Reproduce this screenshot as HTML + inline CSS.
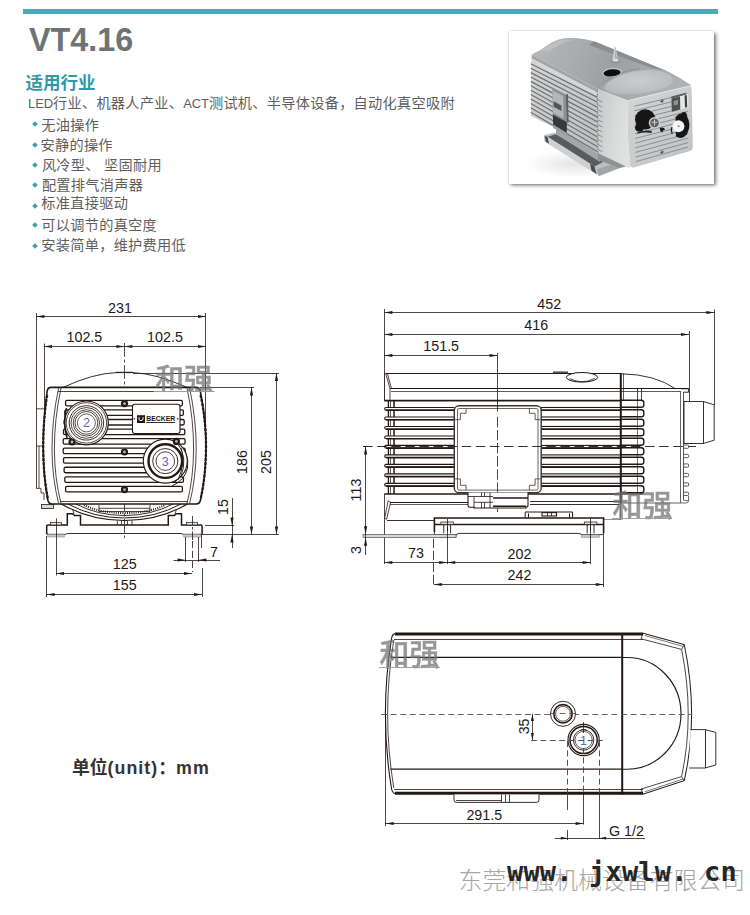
<!DOCTYPE html>
<html lang="zh-CN">
<head>
<meta charset="utf-8">
<title>VT4.16</title>
<style>
html,body{margin:0;padding:0;background:#fff;}
body{width:750px;height:915px;position:relative;overflow:hidden;font-family:"Liberation Sans","Noto Sans CJK SC",sans-serif;}
.bar{position:absolute;left:23px;top:9px;width:695px;height:4.6px;background:#4aacba;}
.title{position:absolute;left:29px;top:22px;font-size:32.3px;line-height:36px;font-weight:bold;color:#6e7375;white-space:nowrap;}
.sub{position:absolute;left:25.5px;top:70.5px;font-size:17.5px;line-height:24px;font-weight:bold;color:#2f9aa7;white-space:nowrap;}
.p{position:absolute;font-size:14.2px;line-height:16px;color:#5e5e5e;white-space:nowrap;letter-spacing:0.28px;}
.p i{font-style:normal;font-size:13px;letter-spacing:-0.1px;}
.b{position:absolute;width:3.9px;height:3.9px;background:#3f9fae;transform:rotate(45deg);}
.unit{position:absolute;left:72px;top:757px;font-size:17.8px;line-height:22px;font-weight:bold;color:#333;white-space:nowrap;}
.unit i{font-style:normal;letter-spacing:1.05px;}
.frame{position:absolute;left:508.5px;top:30.5px;width:205.5px;height:153.5px;background:#fff;box-shadow:2px 2.2px 3.6px rgba(0,0,0,.5),0 0 1.6px rgba(0,0,0,.25);}
.url{position:absolute;left:507px;top:854.4px;font-family:"DejaVu Sans Mono","Liberation Mono",monospace;font-weight:bold;font-size:26.9px;letter-spacing:0.23px;line-height:36px;color:#262626;white-space:pre;}
.corp{position:absolute;left:458.5px;top:864.6px;font-family:"Liberation Sans","Noto Sans CJK SC",sans-serif;font-weight:300;font-size:23.9px;line-height:32px;color:#a6a6a6;white-space:nowrap;}
svg{position:absolute;left:0;top:0;}
svg text{font-family:"Liberation Sans","Noto Sans CJK SC",sans-serif;fill:#231815;}
.wm{font-family:"Liberation Sans","Noto Sans CJK SC",sans-serif;font-weight:500;fill:#747474;stroke:#747474;stroke-width:.55px;opacity:.74;}
</style>
</head>
<body>
<div class="bar"></div>
<div class="title">VT4.16</div>
<div class="sub">适用行业</div>
<div class="p" style="left:28px;top:95px;"><i>LED</i>行业、机器人产业、<i>ACT</i>测试机、半导体设备，自动化真空吸附</div>
<div class="b" style="left:33.2px;top:122.15px;"></div><div class="p" style="left:41.3px;top:116.5px;">无油操作</div>
<div class="b" style="left:33.2px;top:143.25px;"></div><div class="p" style="left:40.5px;top:136.5px;">安静的操作</div>
<div class="b" style="left:33.2px;top:162.75px;"></div><div class="p" style="left:41.9px;top:156.5px;">风冷型、 坚固耐用</div>
<div class="b" style="left:33.2px;top:183.25px;"></div><div class="p" style="left:41.9px;top:177px;">配置排气消声器</div>
<div class="b" style="left:33.2px;top:203.55px;"></div><div class="p" style="left:41.3px;top:195.3px;">标准直接驱动</div>
<div class="b" style="left:33.2px;top:223.25px;"></div><div class="p" style="left:41.3px;top:217px;">可以调节的真空度</div>
<div class="b" style="left:33.2px;top:243.55px;"></div><div class="p" style="left:41.3px;top:237.3px;">安装简单，维护费用低</div>
<div class="frame"></div>
<svg width="750" height="915" viewBox="0 0 750 915">
<g id="front" fill="none" stroke-linecap="butt">
<line x1="36.5" y1="313" x2="36.5" y2="488.5" stroke="#231815" stroke-width="0.8" />
<line x1="205.5" y1="313" x2="205.5" y2="446" stroke="#231815" stroke-width="0.8" />
<line x1="44.5" y1="343.5" x2="44.5" y2="420" stroke="#231815" stroke-width="0.8" />
<line x1="36.4" y1="316.5" x2="206" y2="316.5" stroke="#231815" stroke-width="0.8" /><polygon points="36.4,316.5 44.4,314.9 44.4,318.1" fill="#231815"/><polygon points="206.0,316.5 198.0,314.9 198.0,318.1" fill="#231815"/>
<line x1="44" y1="346.5" x2="124.4" y2="346.5" stroke="#231815" stroke-width="0.8" /><polygon points="44.0,346.5 52.0,344.9 52.0,348.1" fill="#231815"/><polygon points="124.4,346.5 116.4,344.9 116.4,348.1" fill="#231815"/>
<line x1="124.4" y1="346.5" x2="206" y2="346.5" stroke="#231815" stroke-width="0.8" /><polygon points="124.4,346.5 132.4,344.9 132.4,348.1" fill="#231815"/><polygon points="206.0,346.5 198.0,344.9 198.0,348.1" fill="#231815"/>
<line x1="124.5" y1="343" x2="124.5" y2="538" stroke="#231815" stroke-width="0.8" stroke-dasharray="14 2.5 3 2.5"/>
<path d="M46 408.8H36.4M45 446H36.4M39 446V488M36.4 488.4H41V493H44V500" stroke="#231815" stroke-width="0.8"/>
<rect x="41.5" y="504.5" width="12" height="4" fill="#d8d8d8" stroke="#231815" stroke-width="0.8"/>
<path d="M63 387.4Q93 373.5 116 372.6H133Q156 373.5 187 387.4" stroke="#231815" stroke-width="0.9"/>
<line x1="116" y1="372.4" x2="133" y2="372.4" stroke="#231815" stroke-width="1.2" />
<path d="M51 387.4H196Q199.5 387.4 200.3 391Q206 420 206 446Q206 475 200.5 500Q199.8 504 196 504H52Q48.6 504 47.8 500Q43.2 475 43.2 446Q43.2 420 47.2 391Q47.8 387.4 51 387.4Z" fill="#fff" stroke="#231815" stroke-width="1.6"/>
<path d="M47.2 395Q43.2 420 43.2 446Q43.2 475 47.8 498" stroke="#231815" stroke-width="2.2" stroke-dasharray="3 1.2"/>
<path d="M200.5 395Q206 420 206 446Q206 475 200.8 498" stroke="#231815" stroke-width="2.2" stroke-dasharray="3 1.2"/>
<path d="M61 388Q54.2 420 54.4 450Q54.6 478 61 503.5M58.6 388Q51.8 420 52 450Q52.2 478 58.6 503.5" stroke="#231815" stroke-width="0.8"/>
<path d="M187 388Q193.8 420 193.6 450Q193.4 478 187 503.5M189.6 388Q196.4 420 196.2 450Q196 478 189.6 503.5" stroke="#231815" stroke-width="0.8"/>
<line x1="58" y1="391.5" x2="190" y2="391.5" stroke="#231815" stroke-width="0.8" />
<line x1="60" y1="501.5" x2="188" y2="501.5" stroke="#231815" stroke-width="0.8" />
<rect x="65.6" y="400.40" width="116.8" height="5.5" rx="1.4" fill="#fff" stroke="#231815" stroke-width="1.3"/>
<rect x="64.8" y="409.95" width="118.6" height="5.5" rx="1.4" fill="#fff" stroke="#231815" stroke-width="1.3"/>
<rect x="64.1" y="419.50" width="120.1" height="5.5" rx="1.4" fill="#fff" stroke="#231815" stroke-width="1.3"/>
<rect x="63.5" y="429.05" width="121.3" height="5.5" rx="1.4" fill="#fff" stroke="#231815" stroke-width="1.3"/>
<rect x="63.2" y="438.60" width="121.9" height="5.5" rx="1.4" fill="#fff" stroke="#231815" stroke-width="1.3"/>
<rect x="63.2" y="448.15" width="121.9" height="5.5" rx="1.4" fill="#fff" stroke="#231815" stroke-width="1.3"/>
<rect x="63.5" y="457.70" width="121.3" height="5.5" rx="1.4" fill="#fff" stroke="#231815" stroke-width="1.3"/>
<rect x="64.1" y="467.25" width="120.1" height="5.5" rx="1.4" fill="#fff" stroke="#231815" stroke-width="1.3"/>
<rect x="64.8" y="476.80" width="118.6" height="5.5" rx="1.4" fill="#fff" stroke="#231815" stroke-width="1.3"/>
<rect x="65.6" y="486.35" width="116.8" height="5.5" rx="1.4" fill="#fff" stroke="#231815" stroke-width="1.3"/>
<rect x="132.5" y="404.3" width="47.5" height="29.2" rx="2.2" fill="#fff" stroke="#231815" stroke-width="1.1"/>
<rect x="137" y="415.2" width="8" height="7.8" fill="#231815" stroke="none"/>
<path d="M139 417.2V419.6Q141 422 143 419.6V417.2" stroke="#fff" stroke-width="1"/>
<text x="146.2" y="421.2" font-size="7.9" font-weight="bold" textLength="29" lengthAdjust="spacingAndGlyphs" style="fill:#231815">BECKER</text>
<line x1="146.2" y1="422.5" x2="175.2" y2="422.5" stroke="#231815" stroke-width="0.9" />
<circle cx="134.3" cy="418.8" r="0.8" fill="#231815"/><circle cx="177.8" cy="418.8" r="0.8" fill="#231815"/>
<circle cx="86.4" cy="422.9" r="21.9" fill="#fff" stroke="#231815" stroke-width="1.2"/>
<circle cx="86.4" cy="422.9" r="20.2" stroke="#231815" stroke-width="0.8"/>
<circle cx="86.4" cy="422.9" r="17.2" stroke="#231815" stroke-width="0.9"/>
<circle cx="86.4" cy="422.9" r="15.4" stroke="#231815" stroke-width="0.8"/>
<circle cx="86.4" cy="422.9" r="13.2" stroke="#231815" stroke-width="0.8"/>
<circle cx="86.4" cy="422.9" r="11.4" stroke="#231815" stroke-width="0.8"/>
<circle cx="86.4" cy="422.9" r="9" stroke="#231815" stroke-width="0.7"/>
<path d="M66.5 408Q62.5 422 67 438" stroke="#231815" stroke-width="1.5"/>
<text x="86.4" y="427.3" font-size="12.5" text-anchor="middle" style="fill:#5b6bb5">2</text>
<path d="M176 443Q190 452 187.5 468Q185 480 172 486" stroke="#231815" stroke-width="1"/>
<circle cx="165.3" cy="461.1" r="22" fill="#fff" stroke="#231815" stroke-width="1.1"/>
<path d="M178 444Q188 458 181 476L175 482" stroke="#231815" stroke-width="0.9"/>
<path d="M181 448Q186 462 178 480" stroke="#231815" stroke-width="0.9"/>
<circle cx="165.3" cy="461.1" r="16.8" fill="#fff" stroke="#231815" stroke-width="2.4"/>
<circle cx="165.3" cy="461.1" r="12.6" stroke="#231815" stroke-width="0.9"/>
<circle cx="165.3" cy="461.1" r="9.3" stroke="#231815" stroke-width="0.8"/>
<text x="165.3" y="465.6" font-size="12.5" text-anchor="middle" style="fill:#5b6bb5">3</text>
<circle cx="124.5" cy="403.6" r="3.6" fill="#231815"/><circle cx="124.5" cy="403.6" r="1.4" fill="#b5b5b5"/>
<circle cx="124.5" cy="452" r="3.6" fill="#231815"/><circle cx="124.5" cy="452" r="1.4" fill="#b5b5b5"/>
<circle cx="124.5" cy="489.6" r="3.6" fill="#231815"/><circle cx="124.5" cy="489.6" r="1.4" fill="#b5b5b5"/>
<circle cx="72" cy="442" r="3.6" fill="#231815"/><circle cx="72" cy="442" r="1.4" fill="#b5b5b5"/>
<circle cx="176.4" cy="441.4" r="3.6" fill="#231815"/><circle cx="176.4" cy="441.4" r="1.4" fill="#b5b5b5"/>
<path d="M61.3 504Q90 520.5 124.4 520.5Q159 520.5 187.5 504" stroke="#231815" stroke-width="1.1"/>
<path d="M68 504Q94 518 124.4 518Q155 518 181 504" stroke="#231815" stroke-width="1"/>
<path d="M76 504Q98 515.5 124.4 515.5Q151 515.5 173 504" stroke="#231815" stroke-width="0.9"/>
<path d="M84 505Q100 513 124.4 513Q149 513 165 505" stroke="#231815" stroke-width="2" stroke-dasharray="1 1.2"/>
<path d="M99 505V511.5H150V505M99 508.3H150" stroke="#231815" stroke-width="0.8"/>
<path d="M117.3 520.5V525M132 520.5V525M121.5 520.5V525M127.5 520.5V525" stroke="#231815" stroke-width="0.8"/>
<path d="M202.1 534.3V526.2Q202.1 525 200.8 525H181.5V513.7H176.3L174.3 515.5H168.3V525H124.4" stroke="#231815" stroke-width="1.5"/>
<path d="M46.7 534.3V526.2Q46.7 525 48.0 525H67.3V513.7H72.5L74.5 515.5H80.5V525H124.4" stroke="#231815" stroke-width="1.5"/>
<path d="M46.7 534.3H65.3L68 533.5H181L183.5 534.3H202" stroke="#231815" stroke-width="0.9"/>
<path d="M74 514L72.5 509M175 514L176.5 509" stroke="#231815" stroke-width="0.8"/>
<rect x="50.4" y="522.3" width="11.2" height="2.7" fill="#e3e3e3" stroke="#231815" stroke-width="0.7"/>
<rect x="47.8" y="534.3" width="16.4" height="2.7" fill="#c9c9c9" stroke="#777" stroke-width="0.5"/>
<rect x="186.4" y="522.3" width="11.2" height="2.7" fill="#e3e3e3" stroke="#231815" stroke-width="0.7"/>
<rect x="183.8" y="534.3" width="16.4" height="2.7" fill="#c9c9c9" stroke="#777" stroke-width="0.5"/>
<line x1="56.5" y1="518.3" x2="56.5" y2="575.5" stroke="#231815" stroke-width="0.8" />
<line x1="192.5" y1="516" x2="192.5" y2="540" stroke="#231815" stroke-width="0.8" stroke-dasharray="9 2 2.5 2"/>
<line x1="192.5" y1="541" x2="192.5" y2="572" stroke="#231815" stroke-width="0.8" stroke-dasharray="7 3"/>
<line x1="185.5" y1="537" x2="185.5" y2="562" stroke="#231815" stroke-width="0.8" />
<line x1="198.5" y1="537" x2="198.5" y2="562" stroke="#231815" stroke-width="0.8" />
<line x1="173.6" y1="560.5" x2="220" y2="560.5" stroke="#231815" stroke-width="0.8" />
<polygon points="185.6,560.0 177.6,558.4 177.6,561.6" fill="#231815"/>
<polygon points="198.4,560.0 206.4,558.4 206.4,561.6" fill="#231815"/>
<text x="214" y="557" font-size="14.3" text-anchor="middle" >7</text>
<line x1="46.5" y1="536" x2="46.5" y2="597" stroke="#231815" stroke-width="0.8" />
<line x1="202.5" y1="568" x2="202.5" y2="597" stroke="#231815" stroke-width="0.8" />
<line x1="201.5" y1="534.3" x2="201.5" y2="548" stroke="#231815" stroke-width="0.8" />
<line x1="56" y1="573.5" x2="192" y2="573.5" stroke="#231815" stroke-width="0.8" /><polygon points="56.0,573.5 64.0,571.9 64.0,575.1" fill="#231815"/><polygon points="192.0,573.5 184.0,571.9 184.0,575.1" fill="#231815"/>
<text x="124.8" y="569.3" font-size="14.3" text-anchor="middle" >125</text>
<line x1="46.7" y1="594.5" x2="202" y2="594.5" stroke="#231815" stroke-width="0.8" /><polygon points="46.7,594.5 54.7,592.9 54.7,596.1" fill="#231815"/><polygon points="202.0,594.5 194.0,592.9 194.0,596.1" fill="#231815"/>
<text x="124.8" y="590" font-size="14.3" text-anchor="middle" >155</text>
<line x1="205" y1="525.5" x2="234" y2="525.5" stroke="#231815" stroke-width="0.8" />
<line x1="202" y1="534.5" x2="279" y2="534.5" stroke="#231815" stroke-width="0.8" />
<line x1="232.5" y1="498" x2="232.5" y2="548" stroke="#231815" stroke-width="0.8" />
<polygon points="232.0,525.6 230.4,517.6 233.6,517.6" fill="#231815"/>
<polygon points="232.0,534.4 230.4,542.4 233.6,542.4" fill="#231815"/>
<text x="228.4" y="507" font-size="14.3" text-anchor="middle" transform="rotate(-90 228.4 507)" >15</text>
<line x1="200" y1="387.5" x2="254" y2="387.5" stroke="#231815" stroke-width="0.8" />
<line x1="133" y1="373.5" x2="279" y2="373.5" stroke="#231815" stroke-width="0.8" />
<line x1="251.5" y1="387.4" x2="251.5" y2="534.4" stroke="#231815" stroke-width="0.8" /><polygon points="251.5,387.4 249.9,395.4 253.1,395.4" fill="#231815"/><polygon points="251.5,534.4 249.9,526.4 253.1,526.4" fill="#231815"/>
<line x1="276.5" y1="373" x2="276.5" y2="534.4" stroke="#231815" stroke-width="0.8" /><polygon points="276.5,373.0 274.9,381.0 278.1,381.0" fill="#231815"/><polygon points="276.5,534.4 274.9,526.4 278.1,526.4" fill="#231815"/>
<text x="246.6" y="462" font-size="14.3" text-anchor="middle" transform="rotate(-90 246.6 462)" >186</text>
<text x="271" y="462" font-size="14.3" text-anchor="middle" transform="rotate(-90 271 462)" >205</text>
<text x="120" y="312.6" font-size="14.3" text-anchor="middle" >231</text>
<text x="84.4" y="342.3" font-size="14.3" text-anchor="middle" >102.5</text>
<text x="165" y="342.3" font-size="14.3" text-anchor="middle" >102.5</text>
</g>
<text class="wm" x="155.6" y="388.8" font-size="28.6">和强</text>
<line x1="154" y1="391.5" x2="214.5" y2="391.5" stroke="#9b9b9b" stroke-width="1.0" />
<g id="side" fill="none">
<line x1="384.5" y1="309" x2="384.5" y2="373" stroke="#231815" stroke-width="0.8" />
<line x1="714.5" y1="309.5" x2="714.5" y2="405" stroke="#231815" stroke-width="0.8" />
<line x1="689.5" y1="331" x2="689.5" y2="401.5" stroke="#231815" stroke-width="0.8" />
<line x1="384.4" y1="312.5" x2="714.4" y2="312.5" stroke="#231815" stroke-width="0.8" /><polygon points="384.4,312.5 392.4,310.9 392.4,314.1" fill="#231815"/><polygon points="714.4,312.5 706.4,310.9 706.4,314.1" fill="#231815"/>
<line x1="384.4" y1="334.5" x2="689" y2="334.5" stroke="#231815" stroke-width="0.8" /><polygon points="384.4,334.5 392.4,332.9 392.4,336.1" fill="#231815"/><polygon points="689.0,334.5 681.0,332.9 681.0,336.1" fill="#231815"/>
<line x1="384.4" y1="355.5" x2="497.5" y2="355.5" stroke="#231815" stroke-width="0.8" /><polygon points="384.4,355.5 392.4,353.9 392.4,357.1" fill="#231815"/><polygon points="497.5,355.5 489.5,353.9 489.5,357.1" fill="#231815"/>
<text x="549.2" y="308.8" font-size="14.3" text-anchor="middle" >452</text>
<text x="536.2" y="329.6" font-size="14.3" text-anchor="middle" >416</text>
<text x="441.2" y="350.8" font-size="14.3" text-anchor="middle" >151.5</text>
<line x1="385.6" y1="373.5" x2="620.7" y2="373.5" stroke="#231815" stroke-width="1.0" />
<line x1="384.5" y1="373" x2="384.5" y2="400.7" stroke="#231815" stroke-width="0.9" />
<path d="M385.6 373L390 388.8V400M387.3 373L391.5 388.8" stroke="#231815" stroke-width="0.8"/>
<line x1="390" y1="388.5" x2="688.6" y2="388.5" stroke="#231815" stroke-width="1.0" />
<line x1="391" y1="391.5" x2="681" y2="391.5" stroke="#231815" stroke-width="0.7" />
<line x1="553" y1="372.2" x2="568" y2="372.2" stroke="#555" stroke-width="1.6" />
<ellipse cx="582" cy="377.3" rx="15.6" ry="4.8" fill="#fff" stroke="#231815" stroke-width="1"/>
<path d="M569.5 378.5Q582 385 594.5 378.5" stroke="#231815" stroke-width="0.8"/>
<line x1="384.3" y1="400.7" x2="620.7" y2="400.7" stroke="#231815" stroke-width="1.7" />
<line x1="384.3" y1="494" x2="620.7" y2="494" stroke="#231815" stroke-width="1.7" />
<line x1="384.5" y1="494" x2="384.5" y2="564" stroke="#231815" stroke-width="0.8" />
<line x1="388.4" y1="400.7" x2="388.4" y2="494" stroke="#231815" stroke-width="1.3" />
<line x1="390.5" y1="400.7" x2="390.5" y2="494" stroke="#231815" stroke-width="0.7" />
<line x1="393.5" y1="400.7" x2="393.5" y2="494" stroke="#231815" stroke-width="0.7" />
<line x1="394.5" y1="400.7" x2="394.5" y2="494" stroke="#231815" stroke-width="0.8" />
<rect x="384.7" y="407.50" width="70" height="2.6" rx="1.3" fill="#fff" stroke="#231815" stroke-width="1.1"/>
<rect x="541" y="407.50" width="80" height="2.6" fill="#fff" stroke="#231815" stroke-width="1.1"/>
<path d="M386 410.25H454M541 410.25H621" stroke="#231815" stroke-width="1.6"/>
<rect x="384.7" y="416.98" width="70" height="2.6" rx="1.3" fill="#fff" stroke="#231815" stroke-width="1.1"/>
<rect x="541" y="416.98" width="80" height="2.6" fill="#fff" stroke="#231815" stroke-width="1.1"/>
<path d="M386 419.73H454M541 419.73H621" stroke="#231815" stroke-width="1.6"/>
<rect x="384.7" y="426.46" width="70" height="2.6" rx="1.3" fill="#fff" stroke="#231815" stroke-width="1.1"/>
<rect x="541" y="426.46" width="80" height="2.6" fill="#fff" stroke="#231815" stroke-width="1.1"/>
<path d="M386 429.21H454M541 429.21H621" stroke="#231815" stroke-width="1.6"/>
<rect x="384.7" y="435.94" width="70" height="2.6" rx="1.3" fill="#fff" stroke="#231815" stroke-width="1.1"/>
<rect x="541" y="435.94" width="80" height="2.6" fill="#fff" stroke="#231815" stroke-width="1.1"/>
<path d="M386 438.69H454M541 438.69H621" stroke="#231815" stroke-width="1.6"/>
<rect x="384.7" y="445.42" width="70" height="2.6" rx="1.3" fill="#fff" stroke="#231815" stroke-width="1.1"/>
<rect x="541" y="445.42" width="80" height="2.6" fill="#fff" stroke="#231815" stroke-width="1.1"/>
<path d="M386 448.17H454M541 448.17H621" stroke="#231815" stroke-width="1.6"/>
<rect x="384.7" y="454.90" width="70" height="2.6" rx="1.3" fill="#fff" stroke="#231815" stroke-width="1.1"/>
<rect x="541" y="454.90" width="80" height="2.6" fill="#fff" stroke="#231815" stroke-width="1.1"/>
<path d="M386 457.65H454M541 457.65H621" stroke="#231815" stroke-width="1.6"/>
<rect x="384.7" y="464.38" width="70" height="2.6" rx="1.3" fill="#fff" stroke="#231815" stroke-width="1.1"/>
<rect x="541" y="464.38" width="80" height="2.6" fill="#fff" stroke="#231815" stroke-width="1.1"/>
<path d="M386 467.13H454M541 467.13H621" stroke="#231815" stroke-width="1.6"/>
<rect x="384.7" y="473.86" width="70" height="2.6" rx="1.3" fill="#fff" stroke="#231815" stroke-width="1.1"/>
<rect x="541" y="473.86" width="80" height="2.6" fill="#fff" stroke="#231815" stroke-width="1.1"/>
<path d="M386 476.61H454M541 476.61H621" stroke="#231815" stroke-width="1.6"/>
<rect x="384.7" y="483.34" width="70" height="2.6" rx="1.3" fill="#fff" stroke="#231815" stroke-width="1.1"/>
<rect x="541" y="483.34" width="80" height="2.6" fill="#fff" stroke="#231815" stroke-width="1.1"/>
<path d="M386 486.09H454M541 486.09H621" stroke="#231815" stroke-width="1.6"/>
<rect x="621" y="392" width="24" height="108" fill="#fff" stroke="none"/>
<path d="M621 400.30H641.2Q643.8 400.30 643.8 402.50V405.00Q643.8 407.20 641.2 407.20H621" fill="#fff" stroke="#231815" stroke-width="1.4"/>
<path d="M621 409.80H641.2Q643.8 409.80 643.8 412.00V414.50Q643.8 416.70 641.2 416.70H621" fill="#fff" stroke="#231815" stroke-width="1.4"/>
<path d="M621 419.30H641.2Q643.8 419.30 643.8 421.50V424.00Q643.8 426.20 641.2 426.20H621" fill="#fff" stroke="#231815" stroke-width="1.4"/>
<path d="M621 428.80H641.2Q643.8 428.80 643.8 431.00V433.50Q643.8 435.70 641.2 435.70H621" fill="#fff" stroke="#231815" stroke-width="1.4"/>
<path d="M621 438.30H641.2Q643.8 438.30 643.8 440.50V443.00Q643.8 445.20 641.2 445.20H621" fill="#fff" stroke="#231815" stroke-width="1.4"/>
<path d="M621 447.80H641.2Q643.8 447.80 643.8 450.00V452.50Q643.8 454.70 641.2 454.70H621" fill="#fff" stroke="#231815" stroke-width="1.4"/>
<path d="M621 457.30H641.2Q643.8 457.30 643.8 459.50V462.00Q643.8 464.20 641.2 464.20H621" fill="#fff" stroke="#231815" stroke-width="1.4"/>
<path d="M621 466.80H641.2Q643.8 466.80 643.8 469.00V471.50Q643.8 473.70 641.2 473.70H621" fill="#fff" stroke="#231815" stroke-width="1.4"/>
<path d="M621 476.30H641.2Q643.8 476.30 643.8 478.50V481.00Q643.8 483.20 641.2 483.20H621" fill="#fff" stroke="#231815" stroke-width="1.4"/>
<path d="M621 485.80H641.2Q643.8 485.80 643.8 488.00V490.50Q643.8 492.70 641.2 492.70H621" fill="#fff" stroke="#231815" stroke-width="1.4"/>
<line x1="637.5" y1="389" x2="637.5" y2="400.6" stroke="#231815" stroke-width="0.8" />
<line x1="641.5" y1="389" x2="641.5" y2="400.6" stroke="#231815" stroke-width="0.8" />
<line x1="637.5" y1="400.6" x2="637.5" y2="494" stroke="#231815" stroke-width="0.6" />
<line x1="621" y1="494" x2="644" y2="494" stroke="#231815" stroke-width="1.2" />
<line x1="620.8" y1="373" x2="620.8" y2="503" stroke="#231815" stroke-width="2.0" />
<line x1="623.5" y1="373.5" x2="623.5" y2="400" stroke="#231815" stroke-width="0.7" />
<path d="M621.6 373.8Q655 374.5 675.5 388.8" stroke="#231815" stroke-width="0.9"/>
<rect x="454.3" y="405.8" width="86.9" height="86.9" rx="4.6" fill="#fff" stroke="#3a3432" stroke-width="1.4"/>
<rect x="457.5" y="408.5" width="80.5" height="81.6" rx="1.5" stroke="#3a3432" stroke-width="0.75"/>
<path d="M466.1 408.5V413.3H460.4V419.7H455.1" stroke="#3a3432" stroke-width="0.8"/>
<path d="M529.4 408.5V413.3H535.1V419.7H540.4" stroke="#3a3432" stroke-width="0.8"/>
<path d="M466.1 490.1V485.3H460.4V478.90000000000003H455.1" stroke="#3a3432" stroke-width="0.8"/>
<path d="M529.4 490.1V485.3H535.1V478.90000000000003H540.4" stroke="#3a3432" stroke-width="0.8"/>
<line x1="363" y1="446.5" x2="696" y2="446.5" stroke="#231815" stroke-width="0.9" stroke-dasharray="9.5 4.6"/>
<line x1="497.5" y1="353" x2="497.5" y2="392" stroke="#231815" stroke-width="0.8" />
<line x1="497.5" y1="392" x2="497.5" y2="411.6" stroke="#231815" stroke-width="0.8" />
<line x1="497.5" y1="416.8" x2="497.5" y2="512" stroke="#231815" stroke-width="0.8" stroke-dasharray="10.5 2.6"/>
<line x1="680.5" y1="391" x2="680.5" y2="503" stroke="#555" stroke-width="0.9" />
<line x1="683.5" y1="392" x2="683.5" y2="500" stroke="#555" stroke-width="1.0" />
<path d="M681 388.8H688.6V392.2H683.5" stroke="#231815" stroke-width="0.9"/>
<path d="M620.8 503H686Q688.6 503 688.6 500.5V496" stroke="#555" stroke-width="0.9"/>
<line x1="683.5" y1="500.5" x2="688.6" y2="500.5" stroke="#555" stroke-width="0.8" />
<rect x="683.6" y="445.0" width="5" height="3.3" rx="1" stroke="#444" stroke-width="0.9" fill="#fff"/>
<rect x="683.6" y="454.4" width="5" height="3.3" rx="1" stroke="#444" stroke-width="0.9" fill="#fff"/>
<rect x="683.6" y="463.9" width="5" height="3.3" rx="1" stroke="#444" stroke-width="0.9" fill="#fff"/>
<rect x="683.6" y="473.4" width="5" height="3.3" rx="1" stroke="#444" stroke-width="0.9" fill="#fff"/>
<rect x="683.6" y="482.8" width="5" height="3.3" rx="1" stroke="#444" stroke-width="0.9" fill="#fff"/>
<rect x="683.6" y="492.2" width="5" height="3.3" rx="1" stroke="#444" stroke-width="0.9" fill="#fff"/>
<path d="M684 401.5H703.3L714.2 404.8V440.2L703.3 443.5H684Z" fill="#fff" stroke="#231815" stroke-width="0.9"/>
<line x1="703.5" y1="401.5" x2="703.5" y2="443.5" stroke="#231815" stroke-width="0.9" />
<path d="M388.2 500.8L390.6 502.3L386.6 519.2L384.6 518.2Z" stroke="#231815" stroke-width="0.8" fill="#fff"/>
<line x1="390" y1="502.5" x2="468" y2="502.5" stroke="#231815" stroke-width="1.0" />
<line x1="390" y1="504.5" x2="468" y2="504.5" stroke="#231815" stroke-width="0.7" />
<line x1="387" y1="520.5" x2="434.4" y2="520.5" stroke="#231815" stroke-width="0.9" />
<path d="M468 492.6V505.5Q468 507.2 470 507.2H474V508H526V507.2Q528 507.2 528 505V492.6" fill="#fff" stroke="#231815" stroke-width="1.1"/>
<path d="M468 496.5H493M474 502.3H493M474 496.5V508M481.5 492.6V496.5M484.5 492.6V496.5M481.5 502.3V508M484.5 502.3V508M490 492.6V508" stroke="#231815" stroke-width="0.8"/>
<line x1="493" y1="498" x2="528" y2="498" stroke="#231815" stroke-width="1.5" />
<line x1="493" y1="506.3" x2="526" y2="506.3" stroke="#231815" stroke-width="1.5" />
<line x1="530" y1="501.5" x2="620" y2="501.5" stroke="#231815" stroke-width="0.9" />
<line x1="530" y1="504.5" x2="620" y2="504.5" stroke="#231815" stroke-width="0.9" />
<line x1="620.5" y1="503" x2="620.5" y2="520" stroke="#555" stroke-width="0.8" />
<line x1="603.6" y1="519.5" x2="620.4" y2="519.5" stroke="#777" stroke-width="0.8" />
<path d="M525.2 517.8V512H572.6V517.8M528.5 517.8V513.5M569.5 517.8V513.5" stroke="#231815" stroke-width="1.0"/>
<rect x="542" y="512.6" width="14.5" height="3.4" fill="#fff" stroke="#231815" stroke-width="1.1"/>
<line x1="547.5" y1="512.6" x2="547.5" y2="516" stroke="#231815" stroke-width="0.8" />
<line x1="551.5" y1="512.6" x2="551.5" y2="516" stroke="#231815" stroke-width="0.8" />
<path d="M434.4 532V518H603.6V533.4" stroke="#231815" stroke-width="1.6"/>
<line x1="434.4" y1="524.4" x2="603.6" y2="524.4" stroke="#231815" stroke-width="1.5" />
<path d="M434.4 532V534.6H456L459 533.4H579L582 534.6H603.6" stroke="#231815" stroke-width="0.9"/>
<rect x="440.9" y="522" width="12.6" height="2.5" fill="#e0e0e0" stroke="#231815" stroke-width="0.7"/>
<path d="M443.8 524.6V533.4M450.59999999999997 524.6V533.4" stroke="#231815" stroke-width="0.9"/>
<rect x="438.2" y="534.8" width="18" height="2.4" fill="#c8c8c8" stroke="#777" stroke-width="0.5"/>
<line x1="447.5" y1="527" x2="447.5" y2="531" stroke="#231815" stroke-width="1.0" />
<rect x="584.3000000000001" y="522" width="12.6" height="2.5" fill="#e0e0e0" stroke="#231815" stroke-width="0.7"/>
<path d="M587.2 524.6V533.4M594.0 524.6V533.4" stroke="#231815" stroke-width="0.9"/>
<rect x="581.6" y="534.8" width="18" height="2.4" fill="#c8c8c8" stroke="#777" stroke-width="0.5"/>
<line x1="590.5" y1="527" x2="590.5" y2="531" stroke="#231815" stroke-width="1.0" />
<rect x="363" y="534.5" width="93" height="3" fill="#d6d6d6" stroke="#555" stroke-width="0.7"/>
<line x1="447.5" y1="519" x2="447.5" y2="564" stroke="#231815" stroke-width="0.8" />
<line x1="590.5" y1="519" x2="590.5" y2="564" stroke="#231815" stroke-width="0.8" />
<line x1="433.5" y1="539" x2="433.5" y2="587" stroke="#231815" stroke-width="0.8" stroke-dasharray="9 3"/>
<line x1="603.5" y1="533.4" x2="603.5" y2="587" stroke="#231815" stroke-width="0.8" />
<line x1="384.3" y1="562.5" x2="447.2" y2="562.5" stroke="#231815" stroke-width="0.8" /><polygon points="384.3,562.5 392.3,560.9 392.3,564.1" fill="#231815"/><polygon points="447.2,562.5 439.2,560.9 439.2,564.1" fill="#231815"/>
<line x1="447.2" y1="562.5" x2="590.6" y2="562.5" stroke="#231815" stroke-width="0.8" /><polygon points="447.2,562.5 455.2,560.9 455.2,564.1" fill="#231815"/><polygon points="590.6,562.5 582.6,560.9 582.6,564.1" fill="#231815"/>
<line x1="433.8" y1="584.5" x2="603.8" y2="584.5" stroke="#231815" stroke-width="0.8" /><polygon points="433.8,584.5 441.8,582.9 441.8,586.1" fill="#231815"/><polygon points="603.8,584.5 595.8,582.9 595.8,586.1" fill="#231815"/>
<text x="416" y="558.2" font-size="14.3" text-anchor="middle" >73</text>
<text x="519.5" y="558.6" font-size="14.3" text-anchor="middle" >202</text>
<text x="519.5" y="580.4" font-size="14.3" text-anchor="middle" >242</text>
<line x1="365.5" y1="446.6" x2="365.5" y2="555" stroke="#231815" stroke-width="0.8" />
<polygon points="365.6,446.6 364.0,454.6 367.2,454.6" fill="#231815"/>
<polygon points="365.6,534.2 364.0,526.2 367.2,526.2" fill="#231815"/>
<polygon points="365.6,537.8 364.0,545.8 367.2,545.8" fill="#231815"/>
<text x="361" y="490" font-size="14.3" text-anchor="middle" transform="rotate(-90 361 490)" >113</text>
<text x="361" y="550" font-size="14.3" text-anchor="middle" transform="rotate(-90 361 550)" >3</text>
</g>
<text class="wm" x="612.5" y="516.4" font-size="30">和强</text>
<line x1="612" y1="518.5" x2="672" y2="518.5" stroke="#9b9b9b" stroke-width="0.9" />
<g id="top" fill="none">
<path d="M395 634H643" stroke="#231815" stroke-width="3"/>
<path d="M395 793.3H643" stroke="#231815" stroke-width="3"/>
<path d="M396.5 633.4Q392.4 633.6 391.6 638Q385.4 676 385.4 714Q385.4 752 391.6 789Q392.4 793.6 396.5 794" stroke="#231815" stroke-width="1.1"/>
<path d="M393.8 640Q387.6 678 387.6 714Q387.6 750 393.8 788" stroke="#231815" stroke-width="0.8"/>
<line x1="394" y1="639.5" x2="643" y2="639.5" stroke="#231815" stroke-width="0.8" />
<line x1="394" y1="789.5" x2="643" y2="789.5" stroke="#231815" stroke-width="0.8" />
<line x1="390.5" y1="657.4" x2="622" y2="657.4" stroke="#231815" stroke-width="1.2" />
<line x1="390.5" y1="769.2" x2="622" y2="769.2" stroke="#231815" stroke-width="1.2" />
<line x1="622.2" y1="633" x2="622.2" y2="794.5" stroke="#231815" stroke-width="2.0" />
<path d="M643 633.2L684.3 644.6Q691.6 680 691.6 714Q691.6 748 684.3 780.6L643 794.2" stroke="#231815" stroke-width="1.0"/>
<path d="M641 638.8L681.6 649.4Q688.2 682 688.2 714Q688.2 746 681.6 776.6L641 789" stroke="#231815" stroke-width="0.8"/>
<path d="M643 633.2L641 638.8M684.3 644.6L681.6 649.4M643 794.2L641 789M684.3 780.6L681.6 776.6" stroke="#231815" stroke-width="0.8"/>
<path d="M645 635.5L683 646.4M645 791.8L683 779" stroke="#231815" stroke-width="0.6"/>
<path d="M622 657.5H627A54 56.3 0 0 1 681 713.8A54 55.4 0 0 1 627 769.2H622" stroke="#231815" stroke-width="1.15"/>
<path d="M690.4 729.6H705L715.8 732.4V765L705 768H689.2" fill="#fff" stroke="#231815" stroke-width="0.9"/>
<line x1="705.5" y1="729.6" x2="705.5" y2="768" stroke="#231815" stroke-width="0.9" />
<line x1="381" y1="714.5" x2="692" y2="714.5" stroke="#555" stroke-width="0.9" stroke-dasharray="6 3.6"/>
<circle cx="563" cy="713.8" r="12.5" fill="#fff" stroke="#231815" stroke-width="0.9"/>
<circle cx="563" cy="713.8" r="9.2" stroke="#231815" stroke-width="1.6"/>
<circle cx="563" cy="713.8" r="7.4" stroke="#231815" stroke-width="0.7"/>
<line x1="550" y1="713.5" x2="576" y2="713.5" stroke="#555" stroke-width="0.9" stroke-dasharray="6 3.6"/>
<circle cx="583.6" cy="740" r="15.6" fill="#fff" stroke="#231815" stroke-width="1.1"/>
<circle cx="583.6" cy="740" r="13.6" stroke="#231815" stroke-width="1.5"/>
<circle cx="583.6" cy="740" r="10.2" stroke="#231815" stroke-width="0.9"/>
<circle cx="583.6" cy="740" r="8.6" stroke="#231815" stroke-width="0.7"/>
<text x="583.6" y="744.6" font-size="12.5" text-anchor="middle" style="fill:#5b6bb5">1</text>
<line x1="583.5" y1="722" x2="583.5" y2="733" stroke="#231815" stroke-width="0.8" />
<line x1="581" y1="729.5" x2="586.2" y2="729.5" stroke="#231815" stroke-width="0.7" />
<line x1="531" y1="740.5" x2="604" y2="740.5" stroke="#444" stroke-width="0.9" stroke-dasharray="6 3.4"/>
<line x1="567.5" y1="741" x2="567.5" y2="793" stroke="#444" stroke-width="0.9" stroke-dasharray="6 3.4"/>
<line x1="583.5" y1="748" x2="583.5" y2="793" stroke="#444" stroke-width="0.9" stroke-dasharray="6 3.4"/>
<line x1="599.5" y1="741" x2="599.5" y2="793" stroke="#444" stroke-width="0.9" stroke-dasharray="6 3.4"/>
<line x1="567.5" y1="795" x2="567.5" y2="840" stroke="#231815" stroke-width="0.8" stroke-dasharray="15 20 20"/>
<line x1="583.5" y1="794" x2="583.5" y2="824.6" stroke="#231815" stroke-width="0.8" />
<line x1="599.5" y1="794" x2="599.5" y2="838.4" stroke="#231815" stroke-width="0.8" />
<line x1="532.5" y1="714" x2="532.5" y2="740" stroke="#231815" stroke-width="0.8" />
<polygon points="532.4,714.0 530.9,721.0 533.9,721.0" fill="#231815"/>
<polygon points="532.4,740.0 530.9,733.0 533.9,733.0" fill="#231815"/>
<text x="528.6" y="726.4" font-size="14.3" text-anchor="middle" transform="rotate(-90 528.6 726.4)" >35</text>
<path d="M454 794.6V800Q454 802.4 456.5 802.4H536.5Q539 802.4 539 800V794.6" fill="#fff" stroke="#231815" stroke-width="0.9"/>
<line x1="456" y1="800.5" x2="501" y2="800.5" stroke="#231815" stroke-width="0.8" />
<line x1="501.5" y1="794.6" x2="501.5" y2="802.4" stroke="#231815" stroke-width="0.8" />
<line x1="505.5" y1="794.6" x2="505.5" y2="802.4" stroke="#231815" stroke-width="0.8" />
<line x1="509.5" y1="794.6" x2="509.5" y2="802.4" stroke="#231815" stroke-width="0.8" />
<line x1="385.5" y1="720" x2="385.5" y2="826" stroke="#231815" stroke-width="0.8" />
<line x1="385.6" y1="823.5" x2="583.6" y2="823.5" stroke="#231815" stroke-width="0.8" /><polygon points="385.6,823.5 393.6,821.9 393.6,825.1" fill="#231815"/><polygon points="583.6,823.5 575.6,821.9 575.6,825.1" fill="#231815"/>
<text x="484.3" y="819.6" font-size="14.3" text-anchor="middle" >291.5</text>
<line x1="554.7" y1="838.5" x2="645" y2="838.5" stroke="#231815" stroke-width="0.8" />
<polygon points="567.8,838.2 560.8,836.8 560.8,839.6" fill="#231815"/>
<polygon points="599.2,838.2 606.2,836.8 606.2,839.6" fill="#231815"/>
<text x="609" y="836" font-size="14.3" text-anchor="start" >G 1/2</text>
</g>
<text class="wm" x="379.4" y="664.8" font-size="30">和强</text>
<line x1="379" y1="667.5" x2="440" y2="667.5" stroke="#9b9b9b" stroke-width="0.9" />
<defs>
<linearGradient id="gTop" gradientUnits="userSpaceOnUse" x1="535" y1="45" x2="640" y2="85"><stop offset="0" stop-color="#b4b6b8"/><stop offset="0.35" stop-color="#aaacae"/><stop offset="0.7" stop-color="#9d9fa1"/><stop offset="1" stop-color="#a6a8aa"/></linearGradient>
<linearGradient id="gSide" gradientUnits="userSpaceOnUse" x1="531" y1="60" x2="598" y2="150"><stop offset="0" stop-color="#d2d4d5"/><stop offset="1" stop-color="#bdbfc1"/></linearGradient>
<linearGradient id="gFront" gradientUnits="userSpaceOnUse" x1="628" y1="100" x2="692" y2="160"><stop offset="0" stop-color="#d3d4d5"/><stop offset="1" stop-color="#c0c2c3"/></linearGradient>
<linearGradient id="gLeft" gradientUnits="userSpaceOnUse" x1="597" y1="120" x2="630" y2="125"><stop offset="0" stop-color="#c9cbcc"/><stop offset="0.6" stop-color="#d9dada"/><stop offset="1" stop-color="#e0e1e1"/></linearGradient>
<linearGradient id="gHood" gradientUnits="userSpaceOnUse" x1="620" y1="66" x2="650" y2="102"><stop offset="0" stop-color="#a0a2a4"/><stop offset="1" stop-color="#aeb0b2"/></linearGradient>
<radialGradient id="gBump" cx="0.5" cy="0.45" r="0.65"><stop offset="0" stop-color="#cbccce"/><stop offset="1" stop-color="#b6b8ba"/></radialGradient>
<radialGradient id="gShadow" cx="0.5" cy="0.5" r="0.5"><stop offset="0" stop-color="#e4e4e4"/><stop offset="1" stop-color="#ffffff"/></radialGradient>
<filter id="soft" x="-5%" y="-5%" width="110%" height="110%"><feGaussianBlur stdDeviation="0.5"/></filter>
<clipPath id="clipPhoto"><rect x="509" y="31" width="205" height="153"/></clipPath>
</defs>
<g id="photo" clip-path="url(#clipPhoto)"><g filter="url(#soft)">
<ellipse cx="575" cy="164" rx="50" ry="14" fill="url(#gShadow)"/>
<polygon points="544,135.2 554.5,132.5 607,162.5 619.5,164.5 619.5,168 599,176 596.5,174 544,141" fill="#bcbec0"/>
<polygon points="547.5,136.8 556,134.2 603,162 594.5,166.6" fill="#595b5d"/>
<polygon points="544,135.5 547.5,136.8 594.5,166.6 596.5,174 544,141" fill="#cdcfd0"/>
<polygon points="597,169 619.5,162.5 619.5,168 599,176" fill="#a2a4a6"/>
<polygon points="590,163.5 594.5,166.6 596.5,174 591.5,170.8" fill="#4a4c4e"/>
<polygon points="544.5,136 547.5,136.8 549,143.8 546,142" fill="#4a4c4e"/>
<polygon points="556,120 600,148 600,162 556,134" fill="#a3a5a7"/>
<polygon points="598,150 632,165 620,168 598,160" fill="#8f9193"/>
<path d="M531.6 54.8Q535 52.5 540.6 50Q549 43 558.6 39.4Q566 37.6 573 38Q583 38 594.6 41.6L641 60.5Q668 71 691.2 85.5L628 100.5L597 88.4Z" fill="url(#gTop)"/>
<path d="M541 50Q550 43.5 559 40.5Q566 39 574 39.5Q560 43 548 52Z" fill="#c3c5c7" opacity="0.7"/>
<path d="M594.6 41.6L641 60.5L667 71L661 71.5L589 45Q591 42.5 594.6 41.6Z" fill="#8b8d8f"/>
<path d="M597 88.4Q600 84 609 79Q622 70.5 640 68.4Q656 67.6 668 71.6Q681 78 691.2 85.6L628 100.6Z" fill="url(#gHood)"/>
<path d="M604 88.2Q606 82 618 76.5Q636 68.5 654 70Q670 72.5 673 79Q674 85 660 89.5Q640 95 622 94Q607 93 604 88.2Z" fill="url(#gBump)"/>
<path d="M597 88.4Q601 83 610 78.5Q624 70.5 640 68.6" fill="none" stroke="#8a8c8e" stroke-width="0.8"/>
<polygon points="531.6,54.8 597,88.4 597,92.4 531.6,58.6" fill="#a3a5a7"/>
<polygon points="531.6,58.6 597,92.4 597,97.4 531.2,63.4" fill="#d3d5d6"/>
<polygon points="531.2,63 597,97 598,154 568,134 531,116" fill="url(#gSide)"/>
<line x1="530.8" y1="63.8" x2="598" y2="97.6" stroke="#6f7173" stroke-width="1.2"/>
<line x1="530.8" y1="68.2" x2="598" y2="102.5" stroke="#6f7173" stroke-width="1.2"/>
<line x1="530.8" y1="72.6" x2="598" y2="107.5" stroke="#6f7173" stroke-width="1.2"/>
<line x1="530.8" y1="77.0" x2="598" y2="112.5" stroke="#6f7173" stroke-width="1.2"/>
<line x1="530.8" y1="81.4" x2="598" y2="117.4" stroke="#6f7173" stroke-width="1.2"/>
<line x1="530.8" y1="85.8" x2="598" y2="122.3" stroke="#6f7173" stroke-width="1.2"/>
<line x1="530.8" y1="90.2" x2="598" y2="127.3" stroke="#6f7173" stroke-width="1.2"/>
<line x1="530.8" y1="94.6" x2="598" y2="132.2" stroke="#6f7173" stroke-width="1.2"/>
<line x1="530.8" y1="99.0" x2="598" y2="137.2" stroke="#6f7173" stroke-width="1.2"/>
<line x1="530.8" y1="103.4" x2="598" y2="142.1" stroke="#6f7173" stroke-width="1.2"/>
<line x1="530.8" y1="107.8" x2="598" y2="147.1" stroke="#6f7173" stroke-width="1.2"/>
<line x1="530.8" y1="112.2" x2="598" y2="152.1" stroke="#6f7173" stroke-width="1.2"/>
<polygon points="552.4,87.4 565.8,94.4 566.8,122 552.8,114.4" fill="#8d8f91"/>
<polygon points="552.6,90.5 563.2,96 563.6,118.5 553,112.6" fill="#b3b5b7"/>
<polygon points="553.6,101.2 561.4,105.4 561.4,111 553.6,106.8" fill="#525456"/>
<polygon points="552.8,114.4 566.8,122 566.8,133 553.2,124.8" fill="#37393b"/>
<polygon points="553.2,124.8 566.8,133 566.8,136 553.2,128" fill="#9b9d9f"/>
<polygon points="565.8,94.4 568,94 568.6,123 566.8,122" fill="#5d5f61"/>
<path d="M597 88.4L628 100.6Q626.4 135 630.4 166Q630.6 168.6 628 167.6L597.6 153Z" fill="url(#gLeft)"/>
<line x1="597.3" y1="89" x2="598" y2="153.5" stroke="#7f8183" stroke-width="0.9" stroke-dasharray="3.4 1"/>
<line x1="598" y1="100.0" x2="602.5" y2="102.2" stroke="#85878a" stroke-width="0.9"/>
<line x1="598" y1="105.0" x2="602.5" y2="107.2" stroke="#85878a" stroke-width="0.9"/>
<line x1="598" y1="109.9" x2="602.5" y2="112.1" stroke="#85878a" stroke-width="0.9"/>
<line x1="598" y1="114.8" x2="602.5" y2="117.0" stroke="#85878a" stroke-width="0.9"/>
<line x1="598" y1="119.8" x2="602.5" y2="122.0" stroke="#85878a" stroke-width="0.9"/>
<line x1="598" y1="124.8" x2="602.5" y2="127.0" stroke="#85878a" stroke-width="0.9"/>
<line x1="598" y1="129.7" x2="602.5" y2="131.9" stroke="#85878a" stroke-width="0.9"/>
<line x1="598" y1="134.7" x2="602.5" y2="136.8" stroke="#85878a" stroke-width="0.9"/>
<line x1="598" y1="139.6" x2="602.5" y2="141.8" stroke="#85878a" stroke-width="0.9"/>
<line x1="598" y1="144.6" x2="602.5" y2="146.8" stroke="#85878a" stroke-width="0.9"/>
<line x1="598" y1="149.5" x2="602.5" y2="151.7" stroke="#85878a" stroke-width="0.9"/>
<path d="M628 100.6L688 86.4Q691.4 85.6 691.6 89L692.8 147Q692.8 150 690 151L634 167.4Q630.6 168.4 630.3 164.6Q626.6 135 628 100.6Z" fill="url(#gFront)"/>
<path d="M628 100.6L688 86.4Q691.4 85.6 691.6 89" fill="none" stroke="#e6e6e6" stroke-width="0.9"/>
<line x1="634.2" y1="106.2" x2="687.6" y2="93.6" stroke="#888a8c" stroke-width="0.95"/>
<line x1="634.3" y1="110.8" x2="687.6" y2="98.0" stroke="#888a8c" stroke-width="0.95"/>
<line x1="634.5" y1="115.4" x2="687.7" y2="102.5" stroke="#888a8c" stroke-width="0.95"/>
<line x1="634.6" y1="120.0" x2="687.8" y2="106.9" stroke="#888a8c" stroke-width="0.95"/>
<line x1="634.7" y1="124.7" x2="687.8" y2="111.4" stroke="#888a8c" stroke-width="0.95"/>
<line x1="634.9" y1="129.3" x2="687.9" y2="115.8" stroke="#888a8c" stroke-width="0.95"/>
<line x1="635.0" y1="133.9" x2="687.9" y2="120.3" stroke="#888a8c" stroke-width="0.95"/>
<line x1="635.1" y1="138.5" x2="688.0" y2="124.8" stroke="#888a8c" stroke-width="0.95"/>
<line x1="635.3" y1="143.1" x2="688.0" y2="129.2" stroke="#888a8c" stroke-width="0.95"/>
<line x1="635.4" y1="147.8" x2="688.1" y2="133.7" stroke="#888a8c" stroke-width="0.95"/>
<line x1="635.5" y1="152.4" x2="688.1" y2="138.1" stroke="#888a8c" stroke-width="0.95"/>
<line x1="635.7" y1="157.0" x2="688.1" y2="142.6" stroke="#888a8c" stroke-width="0.95"/>
<line x1="635.8" y1="161.6" x2="688.2" y2="147.0" stroke="#888a8c" stroke-width="0.95"/>
<polygon points="671.4,98.6 688.2,94 688.6,107.4 671.8,112" fill="#e6e6e6"/>
<polygon points="671.4,98.6 680,96.2 680.3,109.6 671.8,112" fill="#4d4f51"/>
<polygon points="684.6,95.6 686.8,95 687.2,107 685,107.7" fill="#3e4042"/>
<polygon points="673.6,101 678,99.8 678,104.4 673.6,105.6" fill="#8f9193"/>
<polygon points="671.4,96.6 686,92.8 686,94.4 671.4,98.4" fill="#5a5c5e"/>
<circle cx="645.2" cy="119.4" r="10.2" fill="#161719"/>
<ellipse cx="639.5" cy="127.6" rx="4.6" ry="4" fill="#161719"/>
<path d="M637 132Q645 129.6 652 131L651.4 133Q645 131.6 638 133.6Z" fill="#2a2b2d"/>
<circle cx="654.5" cy="122.8" r="5.8" fill="#cfd0d1"/>
<circle cx="654.5" cy="122.8" r="4.4" fill="#5f6163"/>
<path d="M651.6 122.2H657.4M654.5 119.6V125.6" stroke="#c9cacb" stroke-width="1.1" fill="none"/>
<path d="M659.6 128.4Q663 126.4 665.2 129.2Q662.6 130 662.2 132.6Q660 131.2 659.6 128.4Z" fill="#161719"/>
<path d="M675.5 117Q681 110.6 686.6 115.4Q692 124.6 687 134Q682 140.2 676 136.6Z" fill="#161719"/>
<circle cx="684" cy="114.6" r="2.7" fill="#161719"/>
<circle cx="678.4" cy="126.2" r="6" fill="#f5f5f5"/>
<circle cx="678.6" cy="126.2" r="0.9" fill="#777"/>
<path d="M672.6 127.4Q671 130 673 133.2L671.6 133.8Q669.8 130 671.3 127Z" fill="#161719"/>
<path d="M660.3 101.60000000000001L663.7 100.8M662 99.5V102.9" stroke="#38393b" stroke-width="0.9"/>
<path d="M660.3 152.6L663.7 151.79999999999998M662 150.5V153.89999999999998" stroke="#38393b" stroke-width="0.9"/>
<ellipse cx="612" cy="72.4" rx="10" ry="4.6" fill="#bfc1c3" transform="rotate(-6 612 72.4)"/>
<ellipse cx="612" cy="72.8" rx="8.6" ry="3.5" fill="#0f1012" transform="rotate(-6 612 72.8)"/>
<path d="M614.2 47.4Q615 45.6 615.9 47.4L617.4 59H612.8Z" fill="#d2d3d4"/>
<path d="M615.2 48L616.6 59H615.4Z" fill="#8f9193"/>
<ellipse cx="615.4" cy="61" rx="4.6" ry="2.2" fill="#8f9193"/>
<ellipse cx="615.4" cy="60" rx="3.2" ry="1.6" fill="#dcdddd"/>
</g></g>
</svg>
<div class="unit">单位<i>(unit)</i>：<i>mm</i></div>
<div class="corp">东莞和强机械设备有限公司</div>
<div class="url">www. jxwlw. cn</div>
</body>
</html>
